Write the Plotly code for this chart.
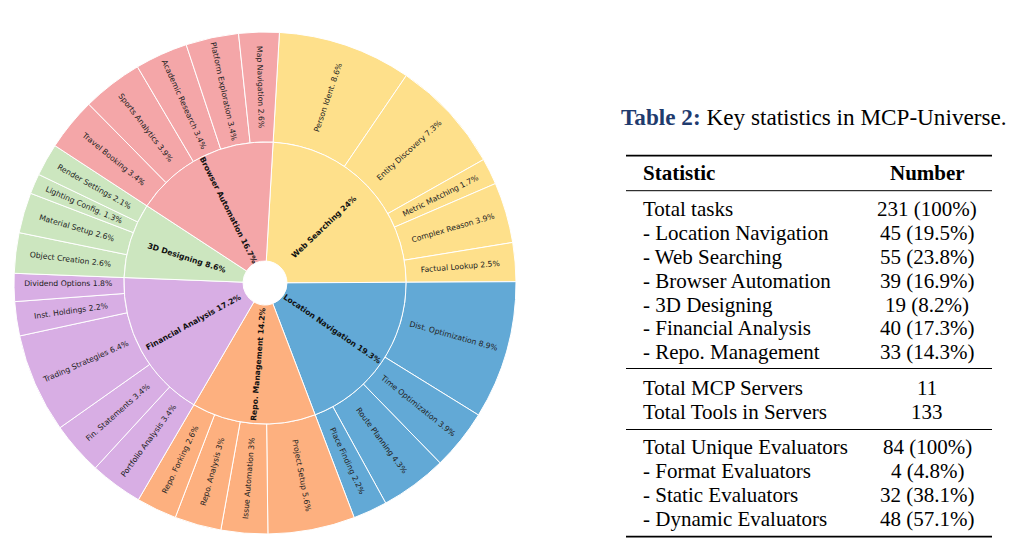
import plotly.graph_objects as go

# ---------------- data ----------------
categories = ["Web Searching", "Location Navigation", "Repo. Management",
              "Financial Analysis", "3D Designing", "Browser Automation"]
category_values = [24, 19.3, 14.2, 17.2, 8.6, 16.7]
category_colors = ["#FEE08B", "#62A9D6", "#FDB07F", "#D8AEE4", "#CCE6BF", "#F4A6A8"]

sub_web = ["Person Ident.", "Entity Discovery", "Metric Matching", "Complex Reason", "Factual Lookup"]
sub_web_values = [8.6, 7.3, 1.7, 3.9, 2.5]
sub_loc = ["Dist. Optimization", "Time Optimization", "Route Planning", "Place Finding"]
sub_loc_values = [8.9, 3.9, 4.3, 2.2]
sub_repo = ["Project Setup", "Issue Automation", "Repo. Analysis", "Repo. Forking"]
sub_repo_values = [5.6, 3, 3, 2.6]
sub_fin = ["Portfolio Analysis", "Fin. Statements", "Trading Strategies", "Inst. Holdings", "Dividend Options"]
sub_fin_values = [3.4, 3.4, 6.4, 2.2, 1.8]
sub_3d = ["Object Creation", "Material Setup", "Lighting Config.", "Render Settings"]
sub_3d_values = [2.6, 2.6, 1.3, 2.1]
sub_browser = ["Travel Booking", "Sports Analytics", "Academic Research", "Platform Exploration", "Map Navigation"]
sub_browser_values = [3.4, 3.9, 3.4, 3.4, 2.6]

table_title_bold = "Table 2:"
table_title_rest = " Key statistics in MCP-Universe."
table_header = ["Statistic", "Number"]
table_group1_stats = ["Total tasks", "- Location Navigation", "- Web Searching", "- Browser Automation",
                      "- 3D Designing", "- Financial Analysis", "- Repo. Management"]
table_group1_nums = ["231 (100%)", "45 (19.5%)", "55 (23.8%)", "39 (16.9%)", "19 (8.2%)",
                     "40 (17.3%)", "33 (14.3%)"]
table_group2_stats = ["Total MCP Servers", "Total Tools in Servers"]
table_group2_nums = ["11", "133"]
table_group3_stats = ["Total Unique Evaluators", "- Format Evaluators", "- Static Evaluators",
                      "- Dynamic Evaluators"]
table_group3_nums = ["84 (100%)", "4 (4.8%)", "32 (38.1%)", "48 (57.1%)"]

# ---------------- layout constants ----------------
W, H = 1022, 554
CX, CY = 265, 283          # pixel centre of the sunburst
R_OUT, R_MID, R_HOLE = 251, 141, 22
START_ROT = 3.3


def px_x(x):
    return x / W


def px_y(y):
    return 1 - y / H


def domain(r):
    return dict(x=[px_x(CX - r), px_x(CX + r)], y=[px_y(CY + r), px_y(CY - r)])


sub_groups = [(sub_web, sub_web_values), (sub_loc, sub_loc_values), (sub_repo, sub_repo_values),
              (sub_fin, sub_fin_values), (sub_3d, sub_3d_values), (sub_browser, sub_browser_values)]
outer_labels, outer_values, outer_colors = [], [], []
for (names, vals), col in zip(sub_groups, category_colors):
    outer_labels += names
    outer_values += vals
    outer_colors += [col] * len(names)

fig = go.Figure()

fig.add_trace(go.Pie(
    labels=outer_labels, values=outer_values,
    text=[f"{n} {v:g}%" for n, v in zip(outer_labels, outer_values)],
    textinfo="text", textposition="inside", insidetextorientation="radial",
    textfont=dict(family="DejaVu Sans", size=7.7, color="#222222"),
    marker=dict(colors=outer_colors, line=dict(color="white", width=1)),
    sort=False, direction="clockwise", rotation=START_ROT,
    hole=R_MID / R_OUT, domain=domain(R_OUT), showlegend=False,
    hovertemplate="%{label}: %{value}%<extra></extra>",
))

fig.add_trace(go.Pie(
    labels=categories, values=category_values,
    text=[f"<b>{n} {v:g}%</b>" for n, v in zip(categories, category_values)],
    textinfo="text", textposition="inside", insidetextorientation="radial",
    textfont=dict(family="DejaVu Sans", size=7.7, color="#111111"),
    marker=dict(colors=category_colors, line=dict(color="white", width=1)),
    sort=False, direction="clockwise", rotation=START_ROT,
    hole=R_HOLE / R_MID, domain=domain(R_MID), showlegend=False,
    hovertemplate="%{label}: %{value}%<extra></extra>",
))

# ---------------- table ----------------
SERIF = "Liberation Serif"
FS = 21
annotations = []
shapes = []
TX0, TX1 = 626, 992
COL1_X, COL2_X = 641, 927


def text(x, y, s, anchor="left", bold=False, color="black"):
    annotations.append(dict(
        x=px_x(x), y=px_y(y), xref="paper", yref="paper",
        text=f"<b>{s}</b>" if bold else s, showarrow=False,
        xanchor=anchor, yanchor="middle",
        font=dict(family=SERIF, size=FS, color=color)))


def rule(y, width):
    shapes.append(dict(type="line", xref="paper", yref="paper",
                       x0=px_x(TX0), x1=px_x(TX1), y0=px_y(y), y1=px_y(y),
                       line=dict(color="black", width=width)))


annotations.append(dict(
    x=px_x(619), y=px_y(117), xref="paper", yref="paper", showarrow=False,
    xanchor="left", yanchor="middle",
    text=f"<b><span style='color:#1F3B6E'>{table_title_bold}</span></b>{table_title_rest}",
    font=dict(family=SERIF, size=23.2, color="black")))

rule(155.7, 1.8)
text(COL1_X, 173.3, table_header[0], bold=True)
text(COL2_X, 173.3, table_header[1], anchor="center", bold=True)
rule(190.7, 1)

ROW = 23.9
y = 209
for s, n in zip(table_group1_stats, table_group1_nums):
    text(COL1_X, y, s)
    text(COL2_X, y, n, anchor="center")
    y += ROW
rule(368.5, 1)
y = 388
for s, n in zip(table_group2_stats, table_group2_nums):
    text(COL1_X, y, s)
    text(COL2_X, y, n, anchor="center")
    y += ROW
rule(429.5, 1)
y = 447
for s, n in zip(table_group3_stats, table_group3_nums):
    text(COL1_X, y, s)
    text(COL2_X, y, n, anchor="center")
    y += ROW
rule(536.7, 1.8)

fig.update_layout(
    width=W, height=H, margin=dict(l=0, r=0, t=0, b=0),
    paper_bgcolor="white", plot_bgcolor="white",
    uniformtext=dict(minsize=7.7, mode="show"),
    annotations=annotations, shapes=shapes,
)

fig.write_html("out.html", config={"displayModeBar": False},
               post_script="document.body.style.margin='0';document.body.style.overflow='hidden';")
